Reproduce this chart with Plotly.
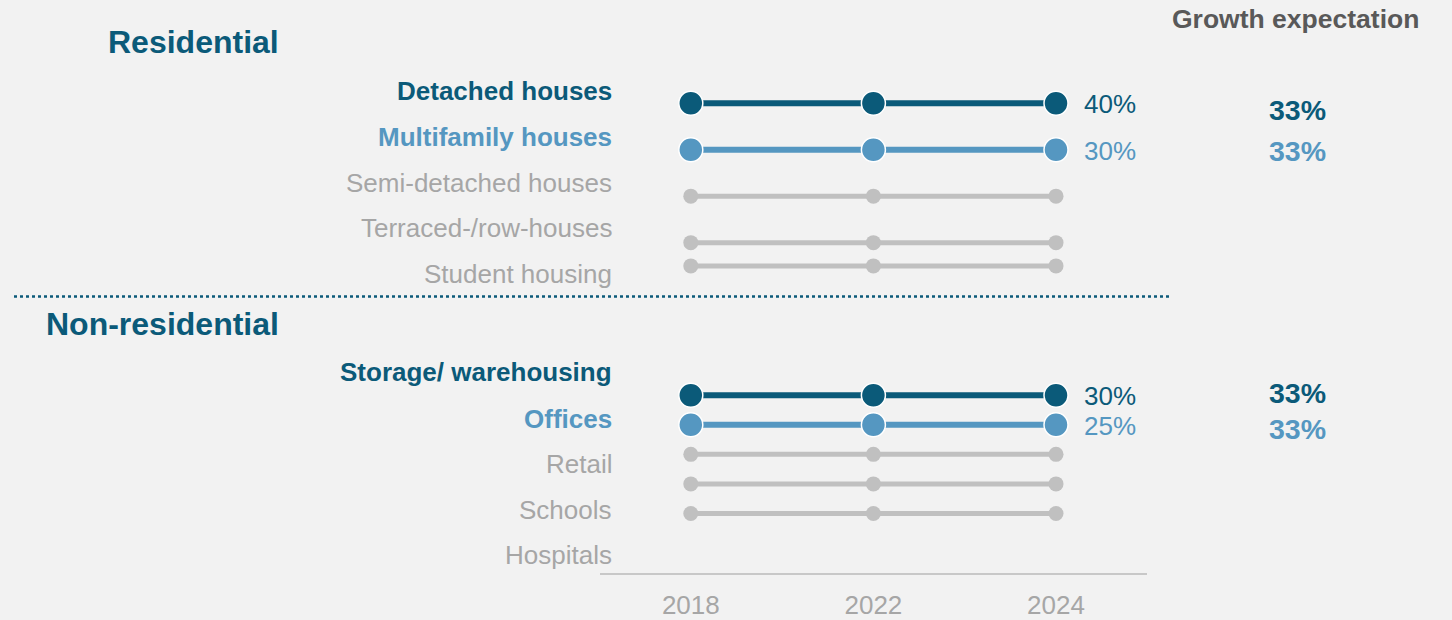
import plotly.graph_objects as go

# ---------------- data ----------------
years = ["2018", "2022", "2024"]

res_title = "Residential"
res_categories = ["Detached houses", "Multifamily houses", "Semi-detached houses",
                  "Terraced-/row-houses", "Student housing"]
res_values = [40, 30, 20, 10, 5]
res_growth = ["33%", "33%", None, None, None]

nonres_title = "Non-residential"
nonres_categories = ["Storage/ warehousing", "Offices", "Retail", "Schools", "Hospitals"]
nonres_values = [30, 25, 20, 15, 10]
nonres_growth = ["33%", "33%", None, None, None]

growth_header = "Growth expectation"

# ---------------- styles ----------------
DARK = "#0b5a79"
LIGHT = "#5597c1"
GRAY = "#c0c0c0"
GRAY_TXT = "#a6a6a6"
BG = "#f2f2f2"
FONT = "Liberation Sans, Arial, sans-serif"

W, H = 1452, 620
YS = 1.005


def py(p):
    return 1 - (p * YS) / H


def pxx(p):
    return p / W


row_colors = [DARK, LIGHT, GRAY, GRAY, GRAY]
row_bold = [True, True, False, False, False]

fig = go.Figure()

panels = [
    dict(cats=res_categories, vals=res_values, growth=res_growth, xa="x", ya="y",
         label_y=[91.5, 137.5, 183.5, 229.5, 275.5], growth_y=[111, 152],
         title=res_title, title_y=42),
    dict(cats=nonres_categories, vals=nonres_values, growth=nonres_growth, xa="x2", ya="y2",
         label_y=[373.5, 420.5, 466.5, 512.5, 558], growth_y=[395, 431],
         title=nonres_title, title_y=326),
]

annotations = []
for p in panels:
    for i, (cat, v) in enumerate(zip(p["cats"], p["vals"])):
        col = row_colors[i]
        highlighted = row_bold[i]
        if v is not None:
            fig.add_trace(go.Scatter(
                x=years, y=[v] * len(years), xaxis=p["xa"], yaxis=p["ya"],
                mode="lines+markers",
                line=dict(color=col, width=6 if highlighted else 5),
                marker=dict(size=24 if highlighted else 15, color=col,
                            line=dict(color="white" if highlighted else col,
                                      width=1.5 if highlighted else 0)),
                showlegend=False, hoverinfo="skip", cliponaxis=False,
            ))
            if highlighted:
                annotations.append(dict(
                    x=2, y=v, xref=p["xa"], yref=p["ya"], text=f"{v}%",
                    showarrow=False, xanchor="left", yanchor="middle", xshift=26,
                    yshift=-1,
                    font=dict(family=FONT, size=26, color=col)))
        # category label
        annotations.append(dict(
            x=pxx(614), y=py(p["label_y"][i]), xref="paper", yref="paper",
            text=f"<b>{cat}</b>" if highlighted else cat,
            showarrow=False, xanchor="right", yanchor="middle",
            font=dict(family=FONT, size=26, color=col if highlighted else GRAY_TXT)))
    # growth values
    gi = 0
    for i, g in enumerate(p["growth"]):
        if g is not None:
            annotations.append(dict(
                x=pxx(1297.5), y=py(p["growth_y"][gi]), xref="paper", yref="paper",
                text=f"<b>{g}</b>", showarrow=False, xanchor="center", yanchor="middle",
                font=dict(family=FONT, size=28.5, color=row_colors[i])))
            gi += 1
    # section title
    annotations.append(dict(
        x=pxx(281), y=py(p["title_y"]), xref="paper", yref="paper",
        text=f"<b>{p['title']}</b>", showarrow=False, xanchor="right", yanchor="middle",
        font=dict(family=FONT, size=32, color=DARK)))

annotations.append(dict(
    x=pxx(1295), y=py(19.5), xref="paper", yref="paper",
    text=f"<b>{growth_header}</b>", showarrow=False, xanchor="center", yanchor="middle",
    font=dict(family=FONT, size=26.5, color="#595959")))

x_dom = [pxx(599.5), pxx(1147.3)]

fig.update_layout(
    width=W, height=H,
    margin=dict(l=0, r=0, t=0, b=0),
    paper_bgcolor=BG, plot_bgcolor=BG,
    font=dict(family=FONT),
    annotations=annotations,
    shapes=[dict(type="line", xref="paper", yref="paper",
                 x0=pxx(14), x1=pxx(1170), y0=py(298), y1=py(298),
                 line=dict(color=DARK, width=2.5, dash="dot"))],
    xaxis=dict(domain=x_dom, type="category", range=[-0.5, 2.5], visible=False,
               anchor="y"),
    yaxis=dict(domain=[py(290.5), py(80.35)], range=[0, 45], visible=False,
               anchor="x"),
    xaxis2=dict(domain=x_dom, type="category", range=[-0.5, 2.5], anchor="y2",
                showline=True, linecolor="#c8c8c8", linewidth=2, showgrid=False,
                zeroline=False, ticks="outside", ticklen=8, tickcolor="rgba(0,0,0,0)",
                tickfont=dict(family=FONT, size=26, color=GRAY_TXT)),
    yaxis2=dict(domain=[py(575.3), py(337.7)], range=[0, 40], visible=False,
                anchor="x2"),
)

fig.write_html(
    "out.html",
    config={"displayModeBar": False},
    post_script="document.body.style.margin='0';document.body.style.overflow='hidden';",
)
